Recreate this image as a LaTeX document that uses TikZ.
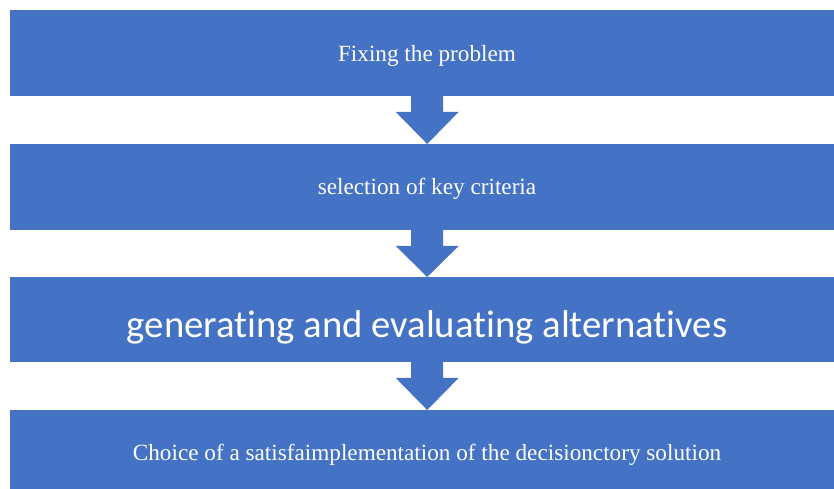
\documentclass[tikz,border=0pt]{standalone}
\usepackage{fontspec}
\setmainfont{Liberation Serif}
\newfontfamily\calibrifont[Ligatures=NoCommon]{Carlito}
\usetikzlibrary{calc}
\definecolor{boxblue}{HTML}{4472C4}
\newcommand\blockarrow[2]{%
  \fill[boxblue] ($(#1.south)+(-16,-0.5)$) -- ($(#1.south)+(-16,15.5)$)
    -- ($(#1.south)+(-31.5,15.5)$) -- (#2.north) -- ($(#1.south)+(31.5,15.5)$)
    -- ($(#1.south)+(16,15.5)$) -- ($(#1.south)+(16,-0.5)$) -- cycle;}
\begin{document}
\begin{tikzpicture}[x=1pt,y=-1pt,
  stage/.style={fill=boxblue, draw=none, minimum width=834pt, inner sep=0pt, anchor=north west},
  lbl/.style={text=white, inner sep=0pt, anchor=base, font=\fontsize{23.2}{28}\selectfont},
  biglbl/.style={text=white, inner sep=0pt, anchor=base, font=\calibrifont\fontsize{38.7}{46}\selectfont}]
\useasboundingbox (0,0) rectangle (834,489);
\clip (0,0) rectangle (834,489);
\node[stage, minimum height=86pt] (b1) at (10,10) {};
\node[stage, minimum height=86pt] (b2) at (10,144) {};
\node[stage, minimum height=85pt] (b3) at (10,277) {};
\node[stage, minimum height=90pt] (b4) at (10,410) {};
\blockarrow{b1}{b2}
\blockarrow{b2}{b3}
\blockarrow{b3}{b4}
\node[lbl] (t1) at (427,61.7) {Fixing the problem};
\node[lbl] (t2) at (427,194) {selection of key criteria};
\node[biglbl] (t3) at (427,337) {generating and evaluating alternatives};
\node[lbl] (t4) at (427,460) {Choice of a satisfaimplementation of the decisionctory solution};
\end{tikzpicture}
\end{document}
